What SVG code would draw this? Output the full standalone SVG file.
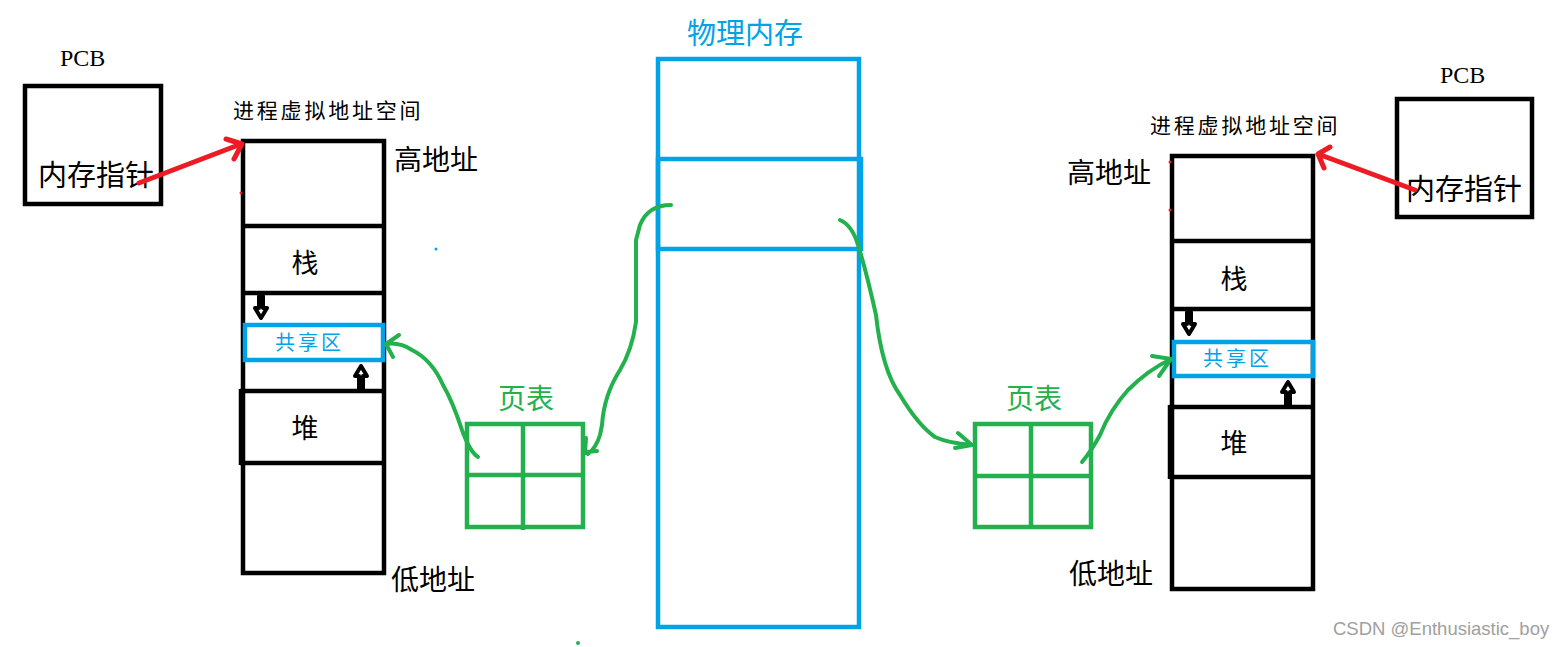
<svg xmlns="http://www.w3.org/2000/svg" width="1567" height="647" viewBox="0 0 1567 647">
<style>
.blk{fill:none;stroke:#000;stroke-width:4.5}
.blu{fill:none;stroke:#00a2e8;stroke-width:4.5}
.grn{fill:none;stroke:#22b14c;stroke-width:4.5}
.gc{fill:none;stroke:#22b14c;stroke-width:4;stroke-linecap:round;stroke-linejoin:round}
.red{fill:none;stroke:#ed1c24;stroke-width:5;stroke-linecap:round;stroke-linejoin:round}
.cjk{font-family:"Noto Sans CJK SC","Noto Sans",sans-serif;fill:#000}
.pcb{font-family:"Liberation Serif",serif;font-size:24px;fill:#000}
.sa{fill:#fff;stroke:#000;stroke-width:4;stroke-linejoin:round}
.shr{font-family:"Noto Sans CJK SC",sans-serif;font-size:20px;fill:#00a2e8;letter-spacing:3px}
.vas{font-size:21px;letter-spacing:2.8px}
.pt{font-family:"Noto Sans CJK SC",sans-serif;font-size:28px;fill:#22b14c}
</style>
<rect width="1567" height="647" fill="#fff"/>

<g id="pcb-left">
<text class="pcb" x="60" y="66">PCB</text>
<rect class="blk" x="25" y="86" width="136" height="118"/>
<text class="cjk" x="38" y="186" font-size="29">内存指针</text>
</g>

<g id="vas-left">
<text class="cjk vas" x="233" y="118">进程虚拟地址空间</text>
<rect class="blk" x="243" y="141" width="141" height="432"/>
<line class="blk" x1="243" y1="226" x2="384" y2="226"/>
<line class="blk" x1="243" y1="293" x2="384" y2="293"/>
<line class="blk" x1="240" y1="391" x2="384" y2="391"/>
<line class="blk" x1="240" y1="463" x2="384" y2="463"/>
<line class="blk" x1="241" y1="389" x2="241" y2="465"/>
<text class="cjk" x="305" y="273" font-size="27" text-anchor="middle">栈</text>
<text class="cjk" x="305" y="438" font-size="27" text-anchor="middle">堆</text>
<path class="sa" d="M259 296 V308 H255 L261 318 L267 308 H263 V296 Z"/>
<path class="sa" d="M359 389 V376 H355 L361 366 L367 376 H363 V389 Z"/>
<rect class="blu" x="245" y="325" width="138" height="35"/>
<text class="shr" x="275" y="350">共享区</text>
<text class="cjk" x="394" y="170" font-size="28">高地址</text>
<text class="cjk" x="391" y="590" font-size="28">低地址</text>
</g>

<g id="phys-mem">
<text x="687" y="44" font-size="29" font-family="Noto Sans CJK SC,sans-serif" fill="#00a2e8">物理内存</text>
<rect class="blu" x="658" y="59" width="201" height="568"/>
<rect class="blu" x="658" y="159" width="203" height="90"/>
</g>

<g id="pt-left">
<text class="pt" x="498" y="409">页表</text>
<rect class="grn" x="467" y="424" width="116" height="103"/>
<line class="grn" x1="523" y1="422" x2="523" y2="530"/>
<line class="grn" x1="467" y1="475" x2="583" y2="475"/>
</g>

<g id="pt-right">
<text class="pt" x="1006" y="409">页表</text>
<rect class="grn" x="975" y="424" width="116" height="103"/>
<line class="grn" x1="1031" y1="422" x2="1031" y2="529"/>
<line class="grn" x1="975" y1="476" x2="1091" y2="476"/>
</g>

<g id="vas-right">
<text class="cjk vas" x="1150" y="133">进程虚拟地址空间</text>
<rect class="blk" x="1172" y="156" width="141" height="433"/>
<line class="blk" x1="1172" y1="241" x2="1313" y2="241"/>
<line class="blk" x1="1172" y1="309" x2="1313" y2="309"/>
<line class="blk" x1="1169" y1="407" x2="1313" y2="407"/>
<line class="blk" x1="1172" y1="477" x2="1313" y2="477"/>
<line class="blk" x1="1170" y1="405" x2="1170" y2="479"/>
<text class="cjk" x="1234" y="289" font-size="27" text-anchor="middle">栈</text>
<text class="cjk" x="1234" y="453" font-size="27" text-anchor="middle">堆</text>
<path class="sa" d="M1187 312 V324 H1183 L1189 334 L1195 324 H1191 V312 Z"/>
<path class="sa" d="M1286 405 V392 H1282 L1288 382 L1294 392 H1290 V405 Z"/>
<rect class="blu" x="1174" y="342" width="139" height="34"/>
<text class="shr" x="1203" y="366">共享区</text>
<text class="cjk" x="1067" y="183" font-size="28">高地址</text>
<text class="cjk" x="1069" y="584" font-size="28">低地址</text>
</g>

<g id="pcb-right">
<text class="pcb" x="1440" y="83">PCB</text>
<rect class="blk" x="1397" y="99" width="135" height="118"/>
<text class="cjk" x="1406" y="200" font-size="29">内存指针</text>
</g>

<g id="connectors">
<path class="red" d="M139 183 L241 144 M226 139 L242 144 L234 159"/>
<path class="red" d="M1415 190 L1318 154 M1330 147 L1318 154 L1324 168"/>
<path class="gc" d="M671 205 Q648 205 640 225 L636 240 L636 322 Q632 350 620 370 Q604 395 602 425 L600 435 Q596 448 588 454 M586 452 L597 451 M585 453 L586 438"/>
<path class="gc" d="M478 457 Q470 452 462 430 Q452 400 443 385 Q432 360 412 350 Q400 342 386 344 M386 344 L399 335 M386 344 L393 357"/>
<path class="gc" d="M840 220 Q852 225 858 245 Q866 270 876 315 Q882 370 900 395 Q918 425 935 437 Q948 443 972 445 M972 445 L958 433 M972 445 L955 448"/>
<path class="gc" d="M1082 462 Q1092 450 1100 435 Q1110 410 1128 390 Q1148 370 1171 359 M1171 359 L1152 356 M1171 359 L1159 376"/>
</g>

<g id="specks">
<circle cx="436" cy="249" r="1.5" fill="#00a2e8"/>
<circle cx="578" cy="643" r="2" fill="#22b14c"/>
<circle cx="241" cy="193" r="1.5" fill="#ed1c24"/>
<circle cx="1170" cy="210" r="1.5" fill="#ed1c24"/>
<circle cx="1170" cy="162" r="1.5" fill="#ed1c24"/>
</g>

<text x="1333" y="635" font-size="18.5" font-family="Liberation Sans,Arial,sans-serif" fill="#a0a0a0">CSDN @Enthusiastic_boy</text>
</svg>
